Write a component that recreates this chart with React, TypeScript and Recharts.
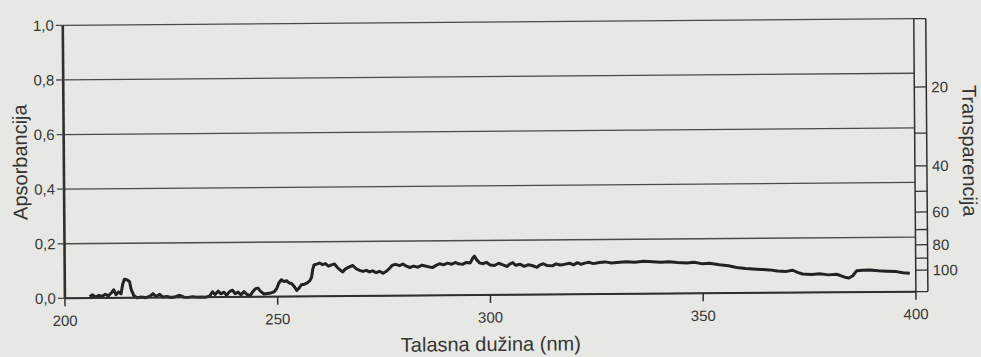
import React from 'react';
import { LineChart, Line, XAxis, YAxis, CartesianGrid } from 'recharts';

// Wavelength (nm) and absorbance
const wavelengths = [
  205.8, 206.5, 207.2, 208, 208.7, 209.5, 210.2, 211, 211.5, 212, 212.6, 213.2, 213.6, 214, 214.6, 215.2, 215.6, 216.2,
  217, 218, 219, 220, 220.7, 221.5, 222.3, 223, 224, 225, 226, 227, 228, 229, 230, 231, 232, 233, 234,
  234.7, 235.3, 236, 236.7, 237.4, 238, 238.7, 239.4, 240, 240.7, 241.4, 242.1, 242.8, 243.5, 244.2, 244.8, 245.4,
  246, 246.8, 247.6, 248.4, 249.2, 249.8, 250.3, 250.9, 251.5, 252.1, 252.7, 253.3, 254, 254.5, 255, 255.6, 256.3,
  257, 257.6, 258, 258.3, 258.6, 259.2, 259.9, 260.6, 261.3, 262, 262.7, 263.4, 264.1, 264.8, 265.3, 266, 266.9,
  267.7, 268.5, 269.3, 270.1, 270.9, 271.6, 272.4, 273.2, 274, 274.8, 275.6, 276.3, 277, 277.8, 278.7, 279.5, 280.3,
  281.1, 282, 283, 284, 285, 286.4, 287.3, 288.1, 289, 290, 291, 291.8, 292.6, 293.5, 294.4, 295.3, 295.9, 296.3,
  296.8, 297.5, 298.3, 299.1, 300, 301, 302, 303, 304, 304.5, 305.3, 306, 307, 308, 309, 310, 311, 311.6, 312.5,
  313.4, 314.6, 315.5, 316.4, 317.3, 318.7, 319.6, 320.5, 321.4, 322.2, 323.2, 324.2, 325.7, 327, 328.5, 330.4, 332,
  334, 336, 338.2, 340, 342, 344, 346.2, 348, 349.9, 351.5, 353.9, 356, 357.9, 360, 361.7, 363.5, 365.7, 367.5, 369.6,
  371.1, 372.2, 373.4, 375.5, 377.4, 379.5, 381.4, 383.3, 384.3, 385.2, 386.1, 387.5, 389.2, 391.2, 393.2, 395.5, 397, 398.6,
];

const absorbance = [
  0.005, 0.012, 0.004, 0.01, 0.006, 0.014, 0.008, 0.02, 0.03, 0.012, 0.022, 0.015, 0.05, 0.068, 0.066, 0.06, 0.03, 0.008,
  0.0, 0.003, 0.0, 0.006, 0.015, 0.004, 0.012, 0.002, 0.004, 0.0, 0.003, 0.008, 0.001, 0.0, 0.002, 0.0, 0.001, 0.0, 0.004,
  0.02, 0.01, 0.022, 0.012, 0.018, 0.006, 0.02, 0.025, 0.012, 0.018, 0.008, 0.02, 0.009, 0.004, 0.02, 0.03, 0.032,
  0.02, 0.01, 0.012, 0.014, 0.018, 0.03, 0.05, 0.062, 0.055, 0.058, 0.05, 0.048, 0.035, 0.022, 0.03, 0.043, 0.045,
  0.05, 0.058, 0.07, 0.1, 0.115, 0.118, 0.122, 0.116, 0.12, 0.11, 0.115, 0.118, 0.105, 0.095, 0.089, 0.1, 0.107,
  0.112, 0.1, 0.094, 0.09, 0.094, 0.088, 0.092, 0.085, 0.09, 0.083, 0.09, 0.1, 0.112, 0.115, 0.11, 0.116, 0.108,
  0.103, 0.108, 0.104, 0.111, 0.107, 0.102, 0.11, 0.116, 0.112, 0.118, 0.114, 0.12, 0.115, 0.113, 0.12, 0.118, 0.135, 0.143,
  0.13, 0.118, 0.115, 0.12, 0.11, 0.108, 0.116, 0.11, 0.104, 0.112, 0.118, 0.108, 0.112, 0.104, 0.11, 0.106, 0.1, 0.108, 0.113,
  0.106, 0.105, 0.112, 0.108, 0.11, 0.114, 0.108, 0.116, 0.11, 0.114, 0.117, 0.112, 0.116, 0.118, 0.114, 0.116, 0.118,
  0.116, 0.119, 0.117, 0.115, 0.117, 0.114, 0.112, 0.114, 0.108, 0.11, 0.104, 0.1, 0.094, 0.09, 0.088, 0.086, 0.084, 0.08, 0.078,
  0.082, 0.074, 0.068, 0.066, 0.068, 0.064, 0.066, 0.055, 0.052, 0.06, 0.078, 0.08, 0.081, 0.078, 0.076, 0.074, 0.07, 0.068,
];

const absTicks = [0, 0.2, 0.4, 0.6, 0.8, 1.0];
const waveTicks = [200, 250, 300, 350, 400];
const transTicks = [20, 30, 40, 50, 60, 70, 80, 90, 100];
const transLabelled = [20, 40, 60, 80, 100];

// Right-hand strip calibration (absorbance-equivalent range of the strip)
const transDomain = [-0.082, 0.96];

const data = wavelengths.map((w, i) => ({ w, a: absorbance[i] }));
const toA = (t: number) => -Math.log10(t / 100);
const transTickValues = [transDomain[0], ...transTicks.map(toA), transDomain[1]];

const INK = '#2f2f2f';
const TEXT = '#353535';
const font = { fontFamily: '"Liberation Sans", Arial, sans-serif', fontSize: 15, fill: TEXT };

export default function App() {
  return (
    <div style={{ position: 'absolute', left: 0, top: 0, width: 981, height: 357, background: '#e7e8e4', overflow: 'hidden' }}>
      <div style={{ transform: 'rotate(-0.45deg)', transformOrigin: '50% 50%', width: 981, height: 357 }}>
        <LineChart width={981} height={357} data={data} margin={{ top: 22, right: 0, bottom: 0, left: 0 }}>
          <CartesianGrid yAxisId="A" vertical={false} stroke="#4a4a4a" strokeWidth={1.3} horizontalValues={absTicks} />
          <XAxis
            dataKey="w"
            type="number"
            domain={[200, 400]}
            ticks={waveTicks}
            height={62}
            tickSize={8}
            tickMargin={9}
            stroke={INK}
            axisLine={{ stroke: INK, strokeWidth: 2 }}
            tickLine={{ stroke: INK, strokeWidth: 1.5 }}
            tick={font}
            label={{ value: 'Talasna dužina (nm)', position: 'insideBottom', offset: 6, style: { ...font, fontSize: 20 } }}
          />
          <YAxis
            yAxisId="A"
            type="number"
            domain={[0, 1]}
            ticks={absTicks}
            width={64}
            tickSize={7}
            tickMargin={2}
            tickFormatter={(v: number) => v.toFixed(1).replace('.', ',')}
            axisLine={{ stroke: INK, strokeWidth: 2.6 }}
            tickLine={{ stroke: '#4a4a4a', strokeWidth: 1.3 }}
            tick={font}
            label={{ value: 'Apsorbancija', angle: -90, position: 'center', dx: -12, style: { ...font, fontSize: 20 } }}
          />
          <YAxis
            yAxisId="T"
            orientation="right"
            type="number"
            domain={transDomain}
            allowDataOverflow
            ticks={transTickValues}
            interval={0}
            width={12}
            tickSize={12}
            tickMargin={5}
            tickFormatter={(v: number) => {
              const t = Math.round(100 * Math.pow(10, -v));
              return transLabelled.includes(t) && Math.abs(toA(t) - v) < 1e-6 ? String(t) : '';
            }}
            axisLine={{ stroke: INK, strokeWidth: 1.5 }}
            tickLine={{ stroke: INK, strokeWidth: 1.3 }}
            tick={font}
          />
          <YAxis
            yAxisId="edge"
            orientation="right"
            type="number"
            domain={[0, 1]}
            allowDataOverflow
            width={54}
            tick={false}
            tickLine={false}
            axisLine={{ stroke: INK, strokeWidth: 1.5 }}
            label={{ value: 'Transparencija', angle: 90, position: 'center', dx: 16, dy: -4, style: { ...font, fontSize: 20 } }}
          />
          <Line yAxisId="T" dataKey="a" stroke="none" dot={false} activeDot={false} isAnimationActive={false} />
          <Line yAxisId="edge" dataKey="a" stroke="none" dot={false} activeDot={false} isAnimationActive={false} />
          <Line
            yAxisId="A"
            dataKey="a"
            type="linear"
            stroke="#222222"
            strokeWidth={3}
            strokeLinejoin="round"
            dot={false}
            isAnimationActive={false}
          />
        </LineChart>
      </div>
    </div>
  );
}
